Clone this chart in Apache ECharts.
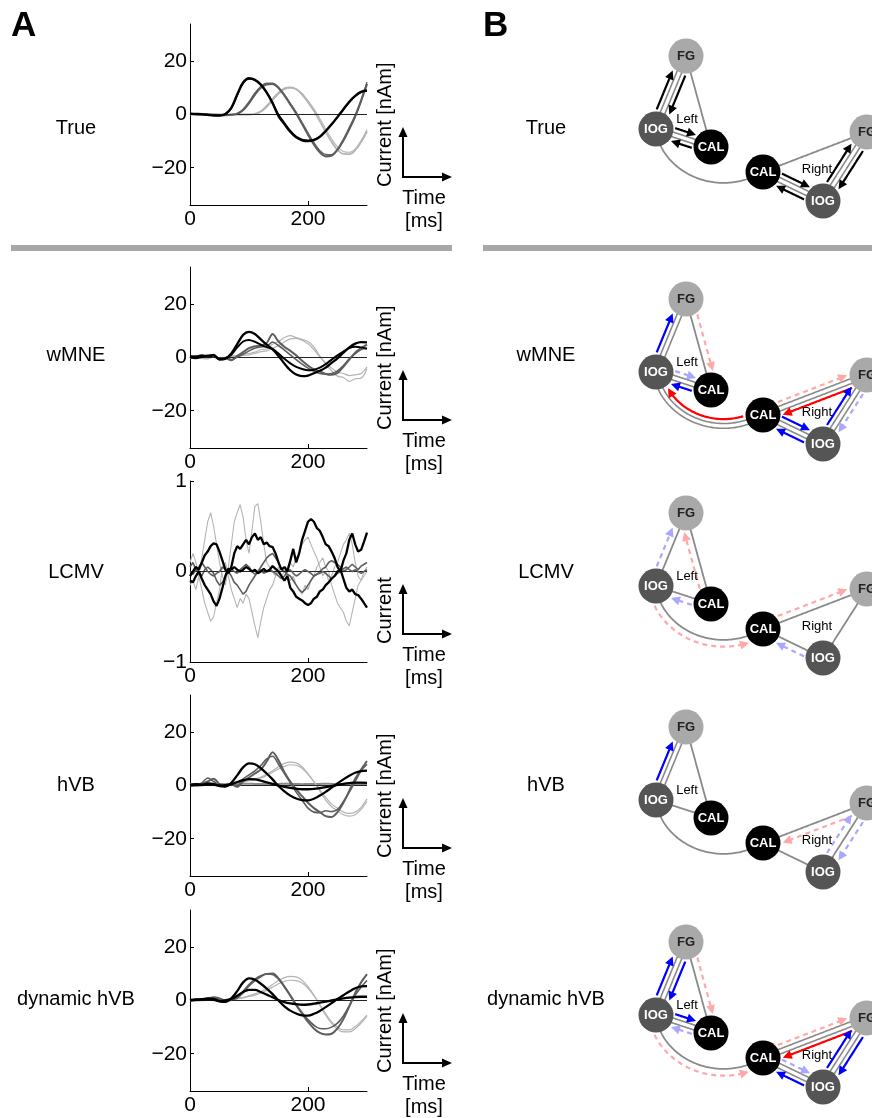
<!DOCTYPE html>
<html><head><meta charset="utf-8">
<script src="https://cdn.jsdelivr.net/npm/echarts@6.0.0/dist/echarts.min.js"></script>
<style>html,body{margin:0;padding:0;background:#fff}#c{width:872px;height:1118px}</style>
</head><body><div id="c"></div>
<script>
// ---------------- DATA ----------------
const methods = ['True', 'wMNE', 'LCMV', 'hVB', 'dynamic hVB'];
const timeMs = [0,10,20,30,40,50,60,70,80,90,100,110,120,130,140,150,160,170,180,190,200,210,220,230,240,250,260,270,280,290,300];
const timeMsFine = [0,5,10,15,20,25,30,35,40,45,50,55,60,65,70,75,80,85,90,95,100,105,110,115,120,125,130,135,140,145,150,155,160,165,170,175,180,185,190,195,200,205,210,215,220,225,230,235,240,245,250,255,260,265,270,275,280,285,290,295,300];
const xTickValues = [0, 200];
const yTickValuesNam = [-20, 0, 20];
const yTickValuesLcmv = [-1, 0, 1];

// True
const trueCAL_a = [0.3,0.2,0.1,-0.1,-0.4,-0.4,0.2,2.5,7.5,12.0,13.6,13.0,11.2,8.2,4.2,-0.6,-3.6,-6.5,-8.6,-9.7,-10.0,-9.6,-8.4,-6.2,-3.7,-0.9,2.0,4.8,7.0,8.5,9.0];
const trueCAL_b = [0.3,0.2,0.1,-0.1,-0.3,-0.4,0.1,2.2,7.0,11.6,13.3,12.9,11.3,8.5,4.7,0.2,-3.0,-6.0,-8.2,-9.3,-9.6,-9.3,-8.2,-6.3,-3.9,-1.2,1.7,4.5,6.8,8.4,8.9];
const trueIOG_a = [0.2,0.1,0,0,-0.1,-0.2,-0.2,-0.1,0.3,1.8,4.5,7.8,10.3,11.6,11.6,10.0,7.2,3.8,0.4,-3.5,-7.5,-11.2,-14.2,-15.7,-15.4,-13.2,-9.6,-5.2,-0.5,5.2,11.5];
const trueIOG_b = [0.2,0.1,0,0,-0.1,-0.1,-0.2,-0.1,0.2,1.5,4.0,7.2,9.8,11.1,11.3,10.0,7.5,4.2,0.8,-3.0,-6.9,-10.5,-13.5,-15.0,-15.1,-13.3,-10.0,-5.8,-1.0,5.0,12.2];
const trueFG_a = [0,0,0,0,0,0,0,0,0,0,0,0.2,1.2,3.2,5.8,8.2,9.8,10.2,9.5,7.5,4.6,1.3,-2.5,-6.6,-10.3,-13.3,-14.8,-14.9,-13.4,-10.3,-6.4];
const trueFG_b = [0,0,0,0,0,0,0,0,0,0,0,0.1,0.9,2.7,5.2,7.7,9.4,10.0,9.6,7.9,5.2,2.1,-1.5,-5.5,-9.2,-12.2,-13.9,-14.2,-12.9,-9.8,-5.6];

// wMNE
const wmneCAL_a = [0.5,0.3,0.8,0.4,1.0,-0.8,-0.5,1.5,5.0,8.5,9.6,8.8,6.8,4.8,3.0,0.6,-2.3,-4.8,-6.4,-7.0,-6.8,-5.9,-5.0,-3.8,-2.0,-0.3,1.8,3.8,5.2,5.8,5.7];
const wmneCAL_b = [0.2,-0.3,0.2,0.6,0.8,-0.6,-0.3,1.0,3.8,6.0,6.6,5.9,4.8,3.9,3.2,1.5,-0.5,-2.2,-3.5,-4.3,-4.8,-4.6,-3.8,-2.5,-0.8,0.8,2.2,3.5,4.0,3.8,3.3];
const wmneIOG_a = [0,0.5,0.2,0.8,0.5,-0.5,-0.3,-1.0,0.5,2.0,3.5,4.2,4.5,5.5,8.8,6.0,4.0,2.5,0.8,-1.2,-3.0,-4.5,-5.2,-6.2,-6.5,-5.8,-3.5,-0.8,1.8,3.5,4.8];
const wmneIOG_b = [-0.3,0.2,0.5,0.3,0.9,-0.4,0.0,-0.8,0.2,1.2,2.5,3.5,4.0,4.2,5.8,4.5,2.8,1.0,-0.8,-2.5,-4.0,-5.2,-6.0,-6.3,-6.0,-5.0,-3.0,-0.5,1.5,3.0,3.5];
const wmneFG_a = [0,0.2,-0.3,-0.5,0.2,-0.6,0,0.5,0.8,1.2,1.5,2.0,3.0,3.2,5.0,6.0,7.5,8.2,7.5,6.8,6.0,4.0,0.5,-2.5,-5.0,-7.0,-7.5,-9.0,-8.0,-7.8,-4.2];
const wmneFG_b = [0.2,-0.2,0.1,-0.3,0.4,-0.4,-0.2,0.2,0.4,0.8,1.0,1.5,2.2,2.5,3.5,4.5,5.8,7.0,7.2,6.5,5.2,3.0,0.2,-2.0,-4.0,-5.5,-6.0,-6.8,-6.5,-6.0,-3.5];

// LCMV (normalised, sampled every 5 ms)
const lcmvCAL_a = [-0.05,0.00,0.05,0.02,0.10,0.18,0.22,0.28,0.31,0.30, 0.22,0.12,0.02,-0.02,0.05,0.20,0.28,0.25,0.30,0.35, 0.30,0.38,0.42,0.35,0.38,0.30,0.32,0.28,0.27,0.20, 0.10,0.02,0.05,0.00,0.12,0.25,0.10,0.20,0.35,0.45, 0.55,0.58,0.55,0.48,0.45,0.38,0.30,0.28,0.22,0.15, 0.05,0.00,0.12,0.20,0.35,0.42,0.30,0.22,0.24,0.33, 0.43];
const lcmvCAL_b = [-0.10,-0.12,-0.05,0.00,-0.08,-0.15,-0.20,-0.25,-0.33,-0.38, -0.30,-0.18,-0.05,0.03,0.02,0.05,0.02,0.00,0.02,0.05, 0.03,0.00,0.02,-0.02,0.00,0.03,0.00,0.02,0.06,0.03, 0.00,-0.05,-0.10,-0.05,-0.18,-0.22,-0.28,-0.30,-0.32,-0.35, -0.37,-0.35,-0.30,-0.28,-0.22,-0.20,-0.15,-0.12,-0.08,-0.05, 0.00,0.02,-0.08,-0.18,-0.22,-0.20,-0.25,-0.26,-0.30,-0.35, -0.40];
const lcmvIOG_a = [0.05,0.10,0.02,0.00,-0.05,0.02,0.05,0.02,-0.02,-0.10, -0.15,-0.12,-0.05,0.00,-0.05,-0.12,-0.15,-0.20,-0.25,-0.22, -0.15,-0.10,-0.05,0.00,0.05,0.10,0.15,0.18,0.20,0.15, 0.10,0.02,0.00,-0.03,-0.05,-0.10,-0.15,-0.20,-0.23,-0.20, -0.15,-0.10,-0.05,-0.03,0.00,0.03,0.05,0.10,0.12,0.10, 0.08,0.05,0.00,0.02,0.05,0.08,0.05,0.02,0.06,0.08, 0.10];
const lcmvIOG_b = [0.00,-0.03,0.02,0.05,0.10,0.05,0.00,-0.03,-0.05,-0.02, 0.00,0.05,0.02,0.00,0.03,0.00,-0.02,0.02,0.05,0.08, 0.05,0.00,-0.03,0.00,0.02,-0.02,0.00,0.02,0.00,-0.02, -0.05,-0.08,-0.05,0.00,0.02,-0.02,-0.05,-0.03,0.00,0.02, 0.00,-0.02,-0.05,-0.03,-0.02,0.00,-0.02,-0.05,-0.08,-0.05, -0.02,0.00,0.03,0.05,0.02,0.00,0.02,0.00,-0.02,0.00, 0.02];
const lcmvFG_a = [0.10,0.20,0.10,-0.05,0.15,0.35,0.55,0.65,0.50,0.30, 0.10,-0.05,-0.15,0.05,0.30,0.55,0.65,0.74,0.60,0.35, 0.20,0.45,0.72,0.75,0.55,0.30,0.10,0.05,0.00,-0.05, 0.05,-0.05,0.00,0.05,0.10,0.05,0.15,0.20,0.30,0.35, 0.38,0.30,0.22,0.15,0.05,-0.05,0.00,-0.10,-0.05,0.05, 0.10,0.20,0.30,0.35,0.42,0.30,0.10,-0.05,-0.10,0.00, 0.05];
const lcmvFG_b = [-0.15,-0.10,-0.20,-0.05,-0.20,-0.35,-0.45,-0.55,-0.50,-0.35, -0.20,0.05,0.10,-0.05,-0.20,-0.30,-0.40,-0.30,-0.35,-0.25, -0.30,-0.45,-0.60,-0.73,-0.55,-0.40,-0.30,-0.20,-0.15,-0.05, 0.00,0.05,0.00,-0.05,-0.10,-0.05,-0.15,-0.20,-0.25,-0.15, -0.20,-0.10,-0.05,0.05,0.10,0.15,0.05,0.00,-0.15,-0.25, -0.35,-0.40,-0.45,-0.55,-0.60,-0.45,-0.30,-0.15,-0.10,-0.05, 0.00];

// hVB
const hvbCAL_a = [0.2,0.5,0.3,0.8,0.5,-0.2,-0.3,1.0,3.8,6.8,8.3,8.0,6.5,4.5,2.3,-0.2,-2.2,-3.8,-4.9,-5.5,-5.6,-5.0,-3.8,-2.4,-0.8,0.8,2.3,3.7,4.8,5.4,5.6];
const hvbCAL_b = [0.0,0.1,0.2,0.3,0.2,0.0,0.1,0.5,1.3,2.0,2.4,2.3,1.8,1.2,0.6,0.0,-0.5,-0.9,-1.2,-1.4,-1.4,-1.3,-1.0,-0.6,-0.2,0.2,0.6,0.9,1.1,1.1,1.0];
const hvbIOG_a = [0.3,0.5,0.6,1.5,2.5,0.5,-0.5,0.5,-0.5,1.5,3.0,4.5,6.0,9.0,12.5,9.5,5.0,1.5,-1.5,-4.0,-6.5,-8.5,-10.0,-11.5,-11.8,-10.0,-6.5,-2.0,2.5,6.0,9.2];
const hvbIOG_b = [-0.2,0.3,1.0,2.8,1.5,0.0,-0.3,0.3,0.0,2.5,4.0,5.5,7.5,10.0,11.0,8.0,4.5,1.0,-2.5,-5.5,-8.5,-10.0,-10.2,-9.5,-9.8,-9.0,-6.0,-2.5,1.5,5.5,8.0];
const hvbFG_a = [0.2,0.0,-0.2,0.5,0.3,0.0,0.2,0.5,1.0,1.5,2.0,2.5,3.2,4.2,5.5,7.0,8.3,8.8,8.5,7.0,4.5,1.5,-2.0,-5.5,-8.0,-9.5,-11.0,-11.5,-11.0,-9.0,-6.0];
const hvbFG_b = [-0.2,0.2,0.0,0.2,0.5,0.2,0.0,0.3,0.8,1.2,1.8,2.2,2.8,3.8,5.0,6.2,7.2,7.8,7.6,6.5,4.2,1.5,-1.5,-4.5,-7.0,-8.5,-10.0,-10.5,-10.0,-8.2,-5.0];
const hvbFlat = [0.6,0.6,0.5,0.6,0.7,0.6,0.5,0.6,0.6,0.7,0.7,0.6,0.6,0.5,0.6,0.6,0.7,0.6,0.6,0.5,0.6,0.6,0.6,0.7,0.6,0.6,0.5,0.6,0.6,0.6,0.6];

// dynamic hVB
const dynCAL_a = [0.2,0.4,0.5,0.8,0.6,-0.3,-0.5,0.8,3.5,6.8,8.3,7.8,6.3,4.5,2.4,0.0,-2.2,-3.8,-4.9,-5.6,-5.7,-5.0,-3.9,-2.5,-1.0,0.6,2.0,3.4,4.6,5.3,5.4];
const dynCAL_b = [0.0,0.2,0.3,0.4,0.2,-0.2,0.0,0.6,1.8,3.2,4.0,4.0,3.2,2.2,1.2,0.2,-0.6,-1.1,-1.4,-1.6,-1.5,-1.2,-0.8,-0.4,0.0,0.4,0.8,1.1,1.3,1.4,1.4];
const dynIOG_a = [0.0,0.3,0.5,0.8,1.2,0.8,0.0,0.2,1.0,3.0,5.5,7.5,9.0,10.0,10.1,8.3,5.2,1.8,-1.8,-5.0,-8.0,-10.5,-12.2,-12.8,-12.5,-10.5,-7.0,-2.2,2.8,6.8,9.9];
const dynIOG_b = [0.2,0.2,0.3,0.5,0.8,0.5,0.1,0.3,1.2,3.5,6.0,8.0,9.3,10.0,9.8,8.0,5.2,2.0,-1.5,-4.5,-7.2,-9.3,-10.5,-10.6,-10.0,-8.5,-5.8,-2.0,2.0,5.0,7.5];
const dynFG_a = [-0.2,-0.1,0.0,0.2,0.3,0.2,0.3,0.5,0.8,1.2,1.8,2.5,3.3,4.5,6.0,7.5,8.6,9.1,8.9,7.6,5.2,2.0,-1.8,-5.5,-8.6,-10.8,-11.8,-11.8,-10.6,-8.5,-6.0];
const dynFG_b = [-0.3,-0.2,-0.1,0.0,0.2,0.1,0.2,0.3,0.6,1.0,1.5,2.0,2.8,3.8,5.0,6.3,7.2,7.6,7.5,6.6,4.6,1.8,-1.5,-5.0,-8.0,-10.0,-11.0,-11.0,-9.8,-7.8,-5.5];

// Network (panel B): nodes 0 FG-L, 1 IOG-L, 2 CAL-L, 3 CAL-R, 4 IOG-R, 5 FG-R
const nodeNames = ['FG', 'IOG', 'CAL', 'CAL', 'IOG', 'FG'];
const grayLinks = [[0,1],[0,2],[1,2],[1,3],[3,5],[3,4],[4,5]];
const hemiLabels = ['Left', 'Right'];
// edges: [from, to, kind]  k=true, b=significant +, r=significant -, lb / lr = weak (dashed)
const trueEdges = [[1,0,'k'],[0,1,'k'],[1,2,'k'],[2,1,'k'],[3,4,'k'],[4,3,'k'],[4,5,'k'],[5,4,'k']];
const wmneEdges = [[1,0,'b'],[0,2,'lr'],[1,2,'lb'],[2,1,'b'],[3,1,'r'],[3,5,'lr'],[5,3,'r'],[3,4,'b'],[4,3,'b'],[4,5,'b'],[5,4,'lb']];
const lcmvEdges = [[1,0,'lb'],[2,0,'lr'],[2,1,'lb'],[1,3,'lr'],[3,5,'lr'],[4,3,'lb']];
const hvbEdges = [[1,0,'b'],[5,3,'lr'],[4,5,'lb'],[5,4,'lb']];
const dynEdges = [[1,0,'b'],[0,1,'b'],[0,2,'lr'],[1,2,'b'],[2,1,'lb'],[1,3,'lr'],[3,5,'lr'],[5,3,'r'],[3,4,'lb'],[4,3,'b'],[4,5,'b'],[5,4,'b']];

// ---------------- LAYOUT / STYLE ----------------
const FONT = '"Liberation Sans", Arial, Helvetica, sans-serif';
const rowTops = [24, 267, 481, 695, 910];
const rowLabelY = [128, 355, 572, 785, 999];
const traceColor = { CAL: '#000000', IOG: '#5e5e5e', FG: '#b4b4b4', flat: '#8a8a8a' };
const nodeFill = { FG: '#a9a9a9', IOG: '#555555', CAL: '#000000' };
const nodeText = { FG: '#222222', IOG: '#ffffff', CAL: '#ffffff' };
// diagram layout units (px-like, inside each B grid)
const nodeLayout = [[66,32],[36,105],[91,123],[143,148],[203,177],[247,108]];
const curveLink = [1, 3];
const curveCtrl = [[40,146],[95,176]];
const hemiLabelPos = [[67,95],[197,145]];
const arrowColors = { k: '#000000', b: '#0000ff', r: '#ff0000', lb: '#a8a8ff', lr: '#ffa8a8' };
const dashedKinds = { lb: true, lr: true };
const NODE_R = 17.5;

const panelsA = [
  { t: timeMs, y: [-34, 34], ticks: yTickValuesNam, smooth: 0.35, unit: 'Current [nAm]',
    traces: [[trueFG_a,'FG',1.8],[trueFG_b,'FG',1.1],[trueIOG_a,'IOG',2.2],[trueIOG_b,'IOG',1.2],[trueCAL_a,'CAL',2.4],[trueCAL_b,'CAL',1.2]] },
  { t: timeMs, y: [-34, 34], ticks: yTickValuesNam, smooth: 0.3, unit: 'Current [nAm]',
    traces: [[wmneFG_a,'FG',1.2],[wmneFG_b,'FG',1.2],[wmneIOG_a,'IOG',2.0],[wmneIOG_b,'IOG',1.6],[wmneCAL_a,'CAL',2.3],[wmneCAL_b,'CAL',2.0]] },
  { t: timeMsFine, y: [-1, 1], ticks: yTickValuesLcmv, smooth: false, unit: 'Current',
    traces: [[lcmvFG_a,'FG',1.1],[lcmvFG_b,'FG',1.1],[lcmvIOG_a,'IOG',1.6],[lcmvIOG_b,'IOG',1.6],[lcmvCAL_a,'CAL',2.3],[lcmvCAL_b,'CAL',2.3]] },
  { t: timeMs, y: [-34, 34], ticks: yTickValuesNam, smooth: 0.3, unit: 'Current [nAm]',
    traces: [[hvbFlat,'flat',2.0],[hvbFG_a,'FG',1.2],[hvbFG_b,'FG',1.2],[hvbIOG_a,'IOG',2.0],[hvbIOG_b,'IOG',1.6],[hvbCAL_a,'CAL',2.3],[hvbCAL_b,'CAL',2.3]] },
  { t: timeMs, y: [-34, 34], ticks: yTickValuesNam, smooth: 0.35, unit: 'Current [nAm]',
    traces: [[dynFG_a,'FG',1.2],[dynFG_b,'FG',1.2],[dynIOG_a,'IOG',2.0],[dynIOG_b,'IOG',1.6],[dynCAL_a,'CAL',2.3],[dynCAL_b,'CAL',2.3]] }
];
const edgesByRow = [trueEdges, wmneEdges, lcmvEdges, hvbEdges, dynEdges];

// ---------------- BUILD ----------------
const grid = [], xAxis = [], yAxis = [], series = [], gfx = [];
const minus = v => String(v).replace('-', '\u2212');

panelsA.forEach((p, i) => {
  grid.push({ left: 190, top: rowTops[i], width: 177, height: 181 });
  xAxis.push({ gridIndex: i, type: 'value', min: 0, max: 300,
    axisLine: { show: true, onZero: false, lineStyle: { color: '#000', width: 1 } },
    axisTick: { show: true, inside: true, length: 4, customValues: xTickValues, lineStyle: { color: '#000' } },
    axisLabel: { customValues: xTickValues, fontSize: 21, color: '#000', fontFamily: FONT, margin: 4 },
    splitLine: { show: false } });
  yAxis.push({ gridIndex: i, type: 'value', min: p.y[0], max: p.y[1],
    axisLine: { show: true, onZero: false, lineStyle: { color: '#000', width: 1 } },
    axisTick: { show: true, inside: true, length: 4, customValues: p.ticks, lineStyle: { color: '#000' } },
    axisLabel: { customValues: p.ticks, fontSize: 21, color: '#000', fontFamily: FONT, margin: 3, formatter: minus },
    splitLine: { show: false } });
  p.traces.forEach((tr, k) => {
    const s = { type: 'line', xAxisIndex: i, yAxisIndex: i, silent: true, symbol: 'none', showSymbol: false,
      smooth: p.smooth, data: p.t.map((x, j) => [x, tr[0][j]]),
      lineStyle: { color: traceColor[tr[1]], width: tr[2] }, z: 2 + k };
    if (k === 0) {
      s.markLine = { silent: true, symbol: ['none', 'none'], label: { show: false }, animation: false,
        lineStyle: { color: '#222', width: 1, type: 'solid' }, data: [{ yAxis: 0 }] };
    }
    series.push(s);
  });

  // annotation (arrows and axis words)
  const top = rowTops[i];
  gfx.push({ type: 'line', shape: { x1: 403, y1: top + 153, x2: 403, y2: top + 111 }, style: { stroke: '#000', lineWidth: 2 } });
  gfx.push({ type: 'polygon', shape: { points: [[403, top + 103], [398.5, top + 113], [407.5, top + 113]] }, style: { fill: '#000' } });
  gfx.push({ type: 'line', shape: { x1: 402, y1: top + 153, x2: 444, y2: top + 153 }, style: { stroke: '#000', lineWidth: 2 } });
  gfx.push({ type: 'polygon', shape: { points: [[452, top + 153], [442, top + 148.5], [442, top + 157.5]] }, style: { fill: '#000' } });
  gfx.push({ type: 'text', x: 385, y: top + 163, rotation: Math.PI / 2,
    style: { text: p.unit, fontSize: 20, fontFamily: FONT, fill: '#000', align: 'left', verticalAlign: 'middle', textAlign: 'left', textVerticalAlign: 'middle' } });
  gfx.push({ type: 'text', x: 424, y: top + 174,
    style: { text: 'Time', fontSize: 20, fontFamily: FONT, fill: '#000', align: 'center', verticalAlign: 'middle', textAlign: 'center', textVerticalAlign: 'middle' } });
  gfx.push({ type: 'text', x: 424, y: top + 197,
    style: { text: '[ms]', fontSize: 20, fontFamily: FONT, fill: '#000', align: 'center', verticalAlign: 'middle', textAlign: 'center', textVerticalAlign: 'middle' } });
  // row labels
  [76, 546].forEach(cx => gfx.push({ type: 'text', x: cx, y: rowLabelY[i],
    style: { text: methods[i], fontSize: 20, fontFamily: FONT, fill: '#000', align: 'center', verticalAlign: 'middle', textAlign: 'center', textVerticalAlign: 'middle' } }));
});

// ---- network geometry helpers ----
function bez(P, t) {
  const u = 1 - t, a = u*u*u, b = 3*u*u*t, c = 3*u*t*t, d = t*t*t;
  return [a*P[0][0]+b*P[1][0]+c*P[2][0]+d*P[3][0], a*P[0][1]+b*P[1][1]+c*P[2][1]+d*P[3][1]];
}
function isCurve(a, b) { return (a === curveLink[0] && b === curveLink[1]) || (a === curveLink[1] && b === curveLink[0]); }
function pathPts(api, a, b) {
  const N = 90, pts = [];
  if (isCurve(a, b)) {
    let P = [nodeLayout[curveLink[0]], curveCtrl[0], curveCtrl[1], nodeLayout[curveLink[1]]].map(q => api.coord(q));
    if (a !== curveLink[0]) P = P.slice().reverse();
    for (let s = 0; s <= N; s++) pts.push(bez(P, s / N));
  } else {
    const A = api.coord(nodeLayout[a]), B = api.coord(nodeLayout[b]);
    for (let s = 0; s <= N; s++) pts.push([A[0] + (B[0]-A[0]) * s / N, A[1] + (B[1]-A[1]) * s / N]);
  }
  return pts;
}
function offsetPts(pts, d) {
  return pts.map((p, i) => {
    const p0 = pts[Math.max(0, i - 1)], p1 = pts[Math.min(pts.length - 1, i + 1)];
    let tx = p1[0] - p0[0], ty = p1[1] - p0[1];
    const L = Math.hypot(tx, ty) || 1; tx /= L; ty /= L;
    return [p[0] + ty * d, p[1] - tx * d];
  });
}
function trimPts(pts, cA, cB, rA, rB) {
  return pts.filter(p => Math.hypot(p[0]-cA[0], p[1]-cA[1]) >= rA && Math.hypot(p[0]-cB[0], p[1]-cB[1]) >= rB);
}
function linkDouble(edges, a, b) {
  return edges.some(e => ((e[0] === a && e[1] === b) || (e[0] === b && e[1] === a)) && !dashedKinds[e[2]]);
}

edgesByRow.forEach((edges, i) => {
  const gi = 5 + i;
  grid.push({ left: 620, top: rowTops[i], width: 252, height: 190 });
  xAxis.push({ gridIndex: gi, type: 'value', min: 0, max: 252, show: false });
  yAxis.push({ gridIndex: gi, type: 'value', min: 0, max: 190, inverse: true, show: false });

  // gray structural links
  series.push({ type: 'custom', xAxisIndex: gi, yAxisIndex: gi, silent: true, z: 1, clip: false,
    data: grayLinks.map((l, k) => [k, 0]),
    renderItem: (params, api) => {
      const l = grayLinks[params.dataIndex];
      const pts = pathPts(api, l[0], l[1]);
      const dbl = linkDouble(edges, l[0], l[1]);
      const offs = dbl ? [-2.4, 2.4] : [0];
      return { type: 'group', children: offs.map(o => ({ type: 'polyline',
        shape: { points: o ? offsetPts(pts, o) : pts },
        style: { stroke: '#8a8a8a', lineWidth: dbl ? 1.6 : 1.8, fill: null } })) };
    } });

  // directed connections
  series.push({ type: 'custom', xAxisIndex: gi, yAxisIndex: gi, silent: true, z: 3, clip: false,
    data: edges.map((e, k) => [k, 0]),
    renderItem: (params, api) => {
      const e = edges[params.dataIndex];
      const a = e[0], b = e[1], kind = e[2];
      const side = isCurve(a, b) ? -1 : 1;
      const cA = api.coord(nodeLayout[a]), cB = api.coord(nodeLayout[b]);
      let pts = trimPts(offsetPts(pathPts(api, a, b), side * 6.8), cA, cB, NODE_R + 1.5, NODE_R + 1.5);
      if (pts.length < 3) return { type: 'group', children: [] };
      const tip = pts[pts.length - 1];
      const ref = pts[Math.max(0, pts.length - 5)];
      let ux = tip[0] - ref[0], uy = tip[1] - ref[1];
      const L = Math.hypot(ux, uy) || 1; ux /= L; uy /= L;
      const HL = 9, HW = 4.5;
      const base = [tip[0] - ux * HL, tip[1] - uy * HL];
      const shaft = pts.filter(p => Math.hypot(p[0] - tip[0], p[1] - tip[1]) > HL * 0.8);
      shaft.push([tip[0] - ux * HL * 0.8, tip[1] - uy * HL * 0.8]);
      const col = arrowColors[kind];
      return { type: 'group', children: [
        { type: 'polyline', shape: { points: shaft }, style: { stroke: col, lineWidth: 2.2, fill: null, lineDash: dashedKinds[kind] ? [5, 4] : null } },
        { type: 'polygon', shape: { points: [tip, [base[0] + uy * HW, base[1] - ux * HW], [base[0] - uy * HW, base[1] + ux * HW]] }, style: { fill: col } }
      ] };
    } });

  // nodes
  series.push({ type: 'scatter', xAxisIndex: gi, yAxisIndex: gi, silent: true, z: 4, clip: false,
    symbol: 'circle', symbolSize: NODE_R * 2,
    data: nodeLayout.map((p, k) => ({ value: p, name: nodeNames[k],
      itemStyle: { color: nodeFill[nodeNames[k]], opacity: 1 }, label: { color: nodeText[nodeNames[k]] } })),
    itemStyle: { opacity: 1 },
    emphasis: { disabled: true },
    label: { show: true, position: 'inside', formatter: '{b}', fontSize: 13, fontWeight: 'bold', fontFamily: FONT } });

  // hemisphere labels
  series.push({ type: 'custom', xAxisIndex: gi, yAxisIndex: gi, silent: true, z: 5, clip: false,
    data: hemiLabelPos.map(p => p.slice()),
    renderItem: (params, api) => {
      const c = api.coord([api.value(0), api.value(1)]);
      return { type: 'text', x: c[0], y: c[1], style: { text: hemiLabels[params.dataIndex], fontSize: 13, fontFamily: FONT, fill: '#000', align: 'center', verticalAlign: 'middle', textAlign: 'center', textVerticalAlign: 'middle' } };
    } });
});

// separators and panel letters
gfx.push({ type: 'rect', shape: { x: 11, y: 245, width: 441, height: 6 }, style: { fill: '#a8a8a8' } });
gfx.push({ type: 'rect', shape: { x: 483, y: 245, width: 389, height: 6 }, style: { fill: '#a8a8a8' } });
gfx.push({ type: 'text', x: 11, y: 9, style: { text: 'A', fontSize: 35, fontWeight: 'bold', fontFamily: FONT, fill: '#000', align: 'left', verticalAlign: 'top', textAlign: 'left', textVerticalAlign: 'top' } });
gfx.push({ type: 'text', x: 483, y: 9, style: { text: 'B', fontSize: 35, fontWeight: 'bold', fontFamily: FONT, fill: '#000', align: 'left', verticalAlign: 'top', textAlign: 'left', textVerticalAlign: 'top' } });

const chart = echarts.init(document.getElementById('c'), null, { renderer: 'canvas', width: 872, height: 1118 });
chart.setOption({ animation: false, backgroundColor: '#ffffff', grid, xAxis, yAxis, series, graphic: { elements: gfx } });
</script>
</body></html>
